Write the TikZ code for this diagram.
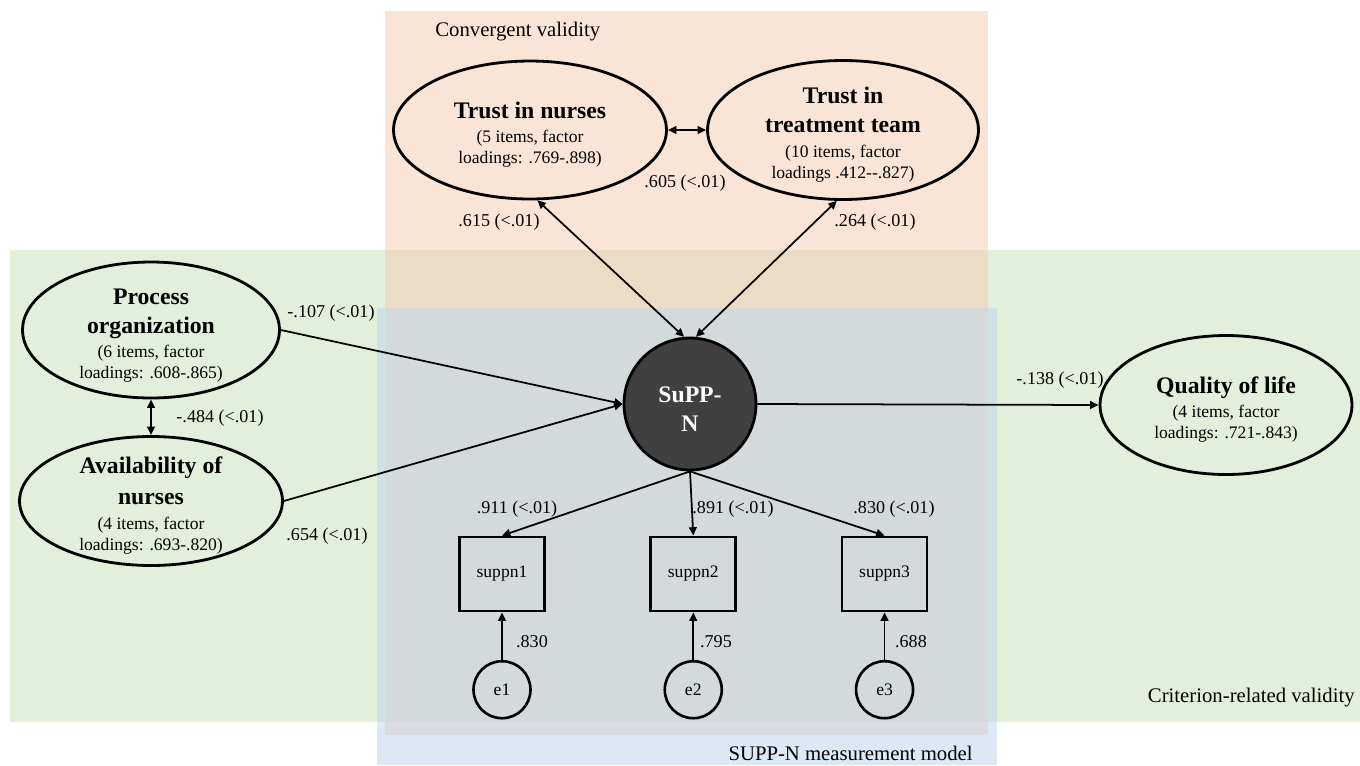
\documentclass[tikz,border=0pt]{standalone}
\usepackage{fontspec}
\setmainfont{Liberation Serif}
\usetikzlibrary{arrows.meta,shapes.geometric,positioning}

\definecolor{bandgreen}{RGB}{226,239,218}
\definecolor{bandorange}{RGB}{246,206,180}
\definecolor{bandblue}{RGB}{194,215,236}
\definecolor{suppfill}{RGB}{64,64,64}

\newcommand{\ttl}[1]{{\fontsize{13.5}{16}\selectfont\bfseries #1}}
\newcommand{\lift}{\rule{0pt}{15pt}}

\tikzset{
  latent/.style={ellipse, draw, line width=1.6pt, inner sep=-10pt, align=center, font=\fontsize{10}{12}\selectfont},
  item/.style={rectangle, draw, line width=1.6pt, minimum width=1.7cm, minimum height=1.48cm, font=\fontsize{10}{12}\selectfont},
  err/.style={circle, draw, line width=1.5pt, minimum size=1.14cm, inner sep=0pt, font=\fontsize{10}{12}\selectfont},
  coef/.style={font=\fontsize{10.3}{12}\selectfont, inner sep=1pt},
  area/.style={font=\fontsize{11.8}{14}\selectfont, inner sep=0pt},
  conn/.style={line width=1pt}
}

\begin{document}
\begin{tikzpicture}[x=0.02cm, y=-0.02cm, >={Triangle[length=4.8pt,width=4.4pt]}]
\useasboundingbox (0,0) rectangle (1360,765);

% coloured areas
\fill[bandgreen] (10,250) rectangle (1360,722);
\fill[bandorange, fill opacity=0.55] (385,11) rectangle (988,735);
\fill[bandblue, fill opacity=0.57] (377,308) rectangle (997,765);

\node[area, anchor=west] (cvlab) at (435,32) {Convergent validity};
\node[area, anchor=east] (crlab) at (1355,698) {Criterion-related validity};
\node[area, anchor=east] (mmlab) at (973,753) {SUPP-N measurement model};

% latent variables
\node[latent, minimum width=5.46cm, minimum height=2.76cm] (nurses) at (530,130)
  {\lift\ttl{Trust in nurses}\\[1.6pt](5 items, factor\\loadings: .769-.898)};
\node[latent, minimum width=5.42cm, minimum height=2.78cm] (team) at (843,130)
  {\lift\ttl{Trust in}\\[4.4pt]\ttl{treatment team}\\[2.2pt](10 items, factor\\loadings .412-{}-.827)};
\node[latent, minimum width=5.14cm, minimum height=2.72cm] (proc) at (151,330)
  {\lift\ttl{Process}\\[4.4pt]\ttl{organization}\\[1.6pt](6 items, factor\\loadings: .608-.865)};
\node[latent, minimum width=5.26cm, minimum height=2.58cm] (avail) at (151,501)
  {\lift\ttl{Availability of}\\[5.4pt]\ttl{nurses}\\[2.2pt](4 items, factor\\loadings: .693-.820)};
\node[latent, minimum width=5.04cm, minimum height=2.78cm] (qol) at (1226,405)
  {\lift\ttl{Quality of life}\\[1.6pt](4 items, factor\\loadings: .721-.843)};
\node[circle, draw, line width=1.6pt, fill=suppfill, text=white, minimum size=2.64cm,
  inner sep=0pt, align=center] (supp) at (690,404) {\lift\ttl{SuPP-}\\[4.4pt]\ttl{N}};

% items and errors
\node[item] (box1) at (502,574) {suppn1};
\node[item, right=2.07cm of box1] (box2) {suppn2};
\node[item, right=2.07cm of box2] (box3) {suppn3};
\node[err, below=0.95cm of box1] (e1) {e1};
\node[err, below=0.95cm of box2] (e2) {e2};
\node[err, below=0.95cm of box3] (e3) {e3};

% paths
\draw[conn, <->] (nurses.east) -- (team.west);
\draw[conn, <->] (supp.95) -- (nurses.276);
\draw[conn, <->] (supp.85) -- (team.265);
\draw[conn, <->] (proc.south) -- (avail.north);
\draw[conn, ->] (proc.east) -- (supp.west);
\draw[conn, ->] (avail.east) -- (supp.west);
\draw[conn, ->] (supp.east) -- (qol.west);
\foreach \i in {1,2,3} {
  \draw[conn, ->] (supp.south) -- (box\i.north);
  \draw[conn, ->] (e\i.north) -- (box\i.south);
}

% coefficients
\node[coef] (c605) at (685,183) {.605 (<.01)};
\node[coef] (c615) at (499,222) {.615 (<.01)};
\node[coef] (c264) at (875,222) {.264 (<.01)};
\node[coef] (c107) at (331,313) {-.107 (<.01)};
\node[coef] (c484) at (220,418) {-.484 (<.01)};
\node[coef] (c654) at (327,536) {.654 (<.01)};
\node[coef] (c138) at (1060,380) {-.138 (<.01)};
\node[coef] (c911) at (517,509) {.911 (<.01)};
\node[coef] (c891) at (733,509) {.891 (<.01)};
\node[coef] (c830a) at (894,509) {.830 (<.01)};
\node[coef] (r1) at (532,642) {.830};
\node[coef] (r2) at (716,642) {.795};
\node[coef] (r3) at (911,642) {.688};
\end{tikzpicture}
\end{document}
